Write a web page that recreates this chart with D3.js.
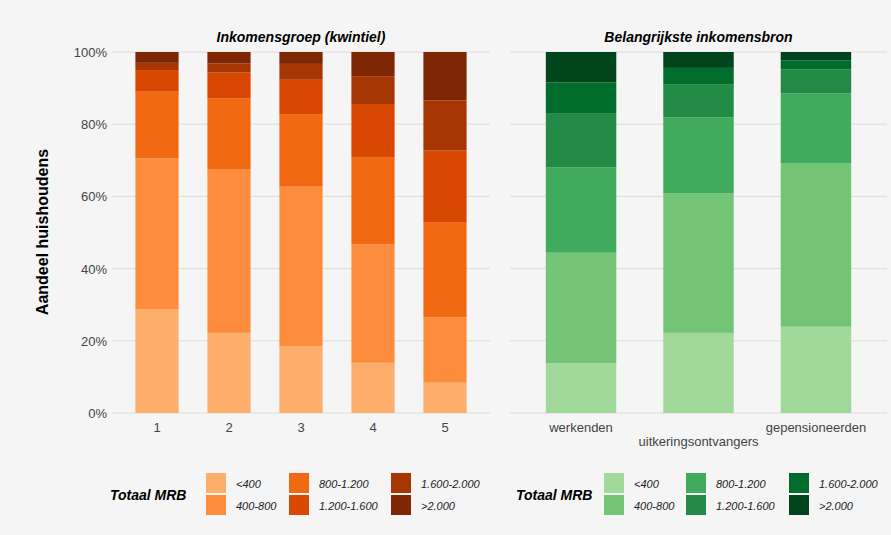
<html><head>
<script src="https://d3js.org/d3.v7.min.js"></script>
<style>body{margin:0;background:#f5f5f5;} text{font-family:"Liberation Sans",Arial,sans-serif;}</style>
</head>
<body>
<svg id="chart" width="891" height="535"></svg>
<script>
    const klassen = ["<400", "400-800", "800-1.200", "1.200-1.600", "1.600-2.000", ">2.000"];
    const kwintielen = ["1", "2", "3", "4", "5"];
    const bronnen = ["werkenden", "uitkeringsontvangers", "gepensioneerden"];
    // percentages per bar, from <400 up to >2.000
    const kwintielWaarden = [
        [28.8, 41.7, 18.5, 6.0, 2.0, 3.0],
        [22.2, 45.4, 19.6, 7.1, 2.5, 3.2],
        [18.4, 44.3, 20.1, 9.5, 4.4, 3.3],
        [13.9, 32.8, 24.2, 14.7, 7.7, 6.7],
        [8.4, 18.1, 26.4, 19.8, 13.9, 13.4]
    ];
    const bronWaarden = [
        [13.8, 30.6, 23.6, 14.9, 8.7, 8.4],
        [22.2, 38.6, 21.1, 9.2, 4.5, 4.4],
        [23.9, 45.2, 19.5, 6.6, 2.5, 2.3]
    ];
    const yTicks = [0, 20, 40, 60, 80, 100];
    const oranje = ["#fdae6b", "#fd8d3c", "#f16913", "#d94801", "#a63603", "#7f2704"];
    const groen = ["#a1d99b", "#74c476", "#41ab5d", "#238b45", "#006d2c", "#00441b"];

    let svg = d3.select("svg#chart");
    svg.append("rect").attr("width", 891).attr("height", 535).attr("fill", "#f5f5f5");

    let y = d3.scaleLinear().domain([0, 100]).range([413, 52]);

    function paneel(x0, x1, cats, waarden, kleuren, titel, outer) {
        let x = d3.scaleBand().domain(cats).range([x0, x1]).paddingInner(0.4).paddingOuter(outer);
        let g = svg.append("g");
        yTicks.forEach(t => {
            g.append("line").attr("x1", x0).attr("x2", x1).attr("y1", y(t)).attr("y2", y(t))
                .attr("stroke", "#dcdcdc").attr("stroke-width", 1);
        });
        cats.forEach((c, i) => {
            let cum = 0;
            waarden[i].forEach((v, k) => {
                g.append("rect").attr("x", x(c)).attr("width", x.bandwidth())
                    .attr("y", y(cum + v)).attr("height", y(cum) - y(cum + v))
                    .attr("fill", kleuren[k]);
                cum += v;
            });
            g.append("text").attr("x", x(c) + x.bandwidth() / 2)
                .attr("y", (cats.length == 3 && i == 1) ? 446 : 432)
                .attr("text-anchor", "middle").attr("font-size", 13).attr("fill", "#444").text(c);
        });
        g.append("text").attr("x", (x0 + x1) / 2).attr("y", 42).attr("text-anchor", "middle")
            .attr("font-size", 14).attr("font-weight", "bold").attr("font-style", "italic").text(titel);
    }

    paneel(112, 490, kwintielen, kwintielWaarden, oranje, "Inkomensgroep (kwintiel)", 0.325);
    paneel(510, 887, bronnen, bronWaarden, groen, "Belangrijkste inkomensbron", 0.305);

    yTicks.forEach(t => {
        svg.append("text").attr("x", 107).attr("y", y(t) + 5).attr("text-anchor", "end")
            .attr("font-size", 13).attr("fill", "#444").text(t + "%");
    });
    svg.append("text").attr("transform", "translate(48,232) rotate(-90)").attr("text-anchor", "middle")
        .attr("font-size", 16).attr("font-weight", "bold").text("Aandeel huishoudens");

    function legenda(tx, sx, kleuren) {
        svg.append("text").attr("x", tx).attr("y", 500).attr("font-size", 14)
            .attr("font-weight", "bold").attr("font-style", "italic").text("Totaal MRB");
        klassen.forEach((k, i) => {
            let col = Math.floor(i / 2), row = i % 2;
            let xx = sx[col];
            svg.append("rect").attr("x", xx).attr("y", 473 + row * 22).attr("width", 20).attr("height", 20)
                .attr("fill", kleuren[i]);
            svg.append("text").attr("x", xx + 30).attr("y", 488 + row * 22).attr("font-size", 11)
                .attr("font-style", "italic").attr("fill", "#222").text(k);
        });
    }
    legenda(110, [206, 289, 391], oranje);
    legenda(516, [604, 686, 789], groen);
</script>
</body>
</html>
